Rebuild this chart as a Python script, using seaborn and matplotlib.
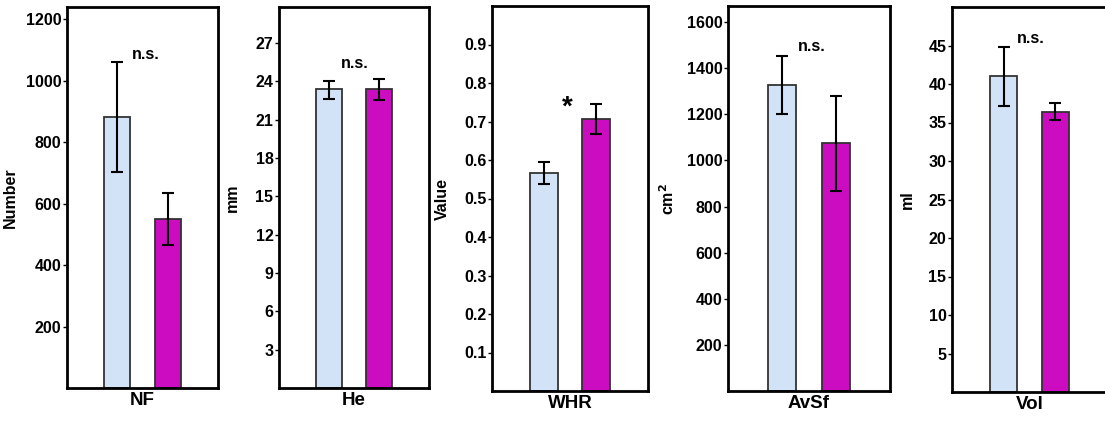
import matplotlib
matplotlib.use('Agg')
import matplotlib.pyplot as plt
import seaborn as sns
import pandas as pd

sns.set_style('white')
plt.rcParams['font.family'] = ['Liberation Sans', 'DejaVu Sans']
plt.rcParams['font.weight'] = 'bold'
plt.rcParams['text.color'] = 'black'
plt.rcParams['axes.labelcolor'] = 'black'
plt.rcParams['ytick.color'] = 'black'

# data
panels = ['NF', 'He', 'WHR', 'AvSf', 'Vol']
ylabels = ['Number', 'mm', 'Value', 'cm$^2$', 'ml']
groups = ['control', 'treated']
means = [[882, 549], [23.35, 23.4], [0.566, 0.706], [1327, 1074], [41.0, 36.3]]
err_hi = [[1062, 634], [24.05, 24.2], [0.595, 0.745], [1455, 1279], [44.8, 37.5]]
err_lo = [[703, 467], [22.6, 22.5], [0.537, 0.668], [1200, 866], [37.1, 35.3]]
marks = ['n.s.', 'n.s.', '*', 'n.s.', 'n.s.']
mark_y = [1085, 25.4, 0.735, 1494, 45.9]
mark_x = [0.57, 0.51, 0.44, 0.56, 0.52]
ymax = [1240, 29.8, 1.0, 1670, 50.0]
yticks = [list(range(200, 1201, 200)), list(range(3, 28, 3)),
          [0.1, 0.2, 0.3, 0.4, 0.5, 0.6, 0.7, 0.8, 0.9],
          list(range(200, 1601, 200)), list(range(5, 46, 5))]
colors = ['#d3e3f7', '#cc0cc0']

W, H = 1105, 421
# axes boxes in pixels: left, right, top, bottom
boxes = [(67, 218, 7, 388), (279, 429, 7, 388), (492, 648, 6, 391),
         (728, 890, 6, 391), (952, 1107, 7, 392)]
label_off = [49, 39, 42, 51, 37]

fig = plt.figure(figsize=(W / 100, H / 100), dpi=100)

for i, name in enumerate(panels):
    l, r, t, b = boxes[i]
    ax = fig.add_axes([l / W, 1 - b / H, (r - l) / W, (b - t) / H])
    df = pd.DataFrame({'group': groups, 'value': means[i]})
    sns.barplot(data=df, x='group', y='value', hue='group', palette=colors,
                saturation=1, width=0.52, edgecolor='#333333', linewidth=1.3,
                legend=False, errorbar=None, ax=ax)
    lo = [m - e for m, e in zip(means[i], err_lo[i])]
    hi = [e - m for m, e in zip(means[i], err_hi[i])]
    ax.errorbar([0, 1], means[i], yerr=[lo, hi], fmt='none', ecolor='black',
                elinewidth=1.5, capsize=4.5, capthick=1.5)
    ax.text(mark_x[i], mark_y[i], marks[i], ha='center', va='center',
            fontsize=20 if marks[i] == '*' else 11.5, fontweight='bold')
    ax.set_xlim(-1.0, 2.0)
    ax.set_ylim(0, ymax[i])
    ax.set_yticks(yticks[i])
    ax.set_yticklabels([f'{v:g}' for v in yticks[i]], fontsize=11.5,
                       fontweight='bold')
    ax.set_xticks([])
    ax.set_xlabel(name, fontsize=13.5, fontweight='bold', labelpad=3)
    ax.set_ylabel(ylabels[i], fontsize=11.5, fontweight='bold')
    ax.yaxis.set_label_coords(-label_off[i] / (r - l), 0.5)
    ax.tick_params(axis='y', left=True, length=3, width=1, pad=1)
    for s in ax.spines.values():
        s.set_visible(True)
        s.set_linewidth(2)
        s.set_color('black')

fig.savefig('out.png', dpi=100)
